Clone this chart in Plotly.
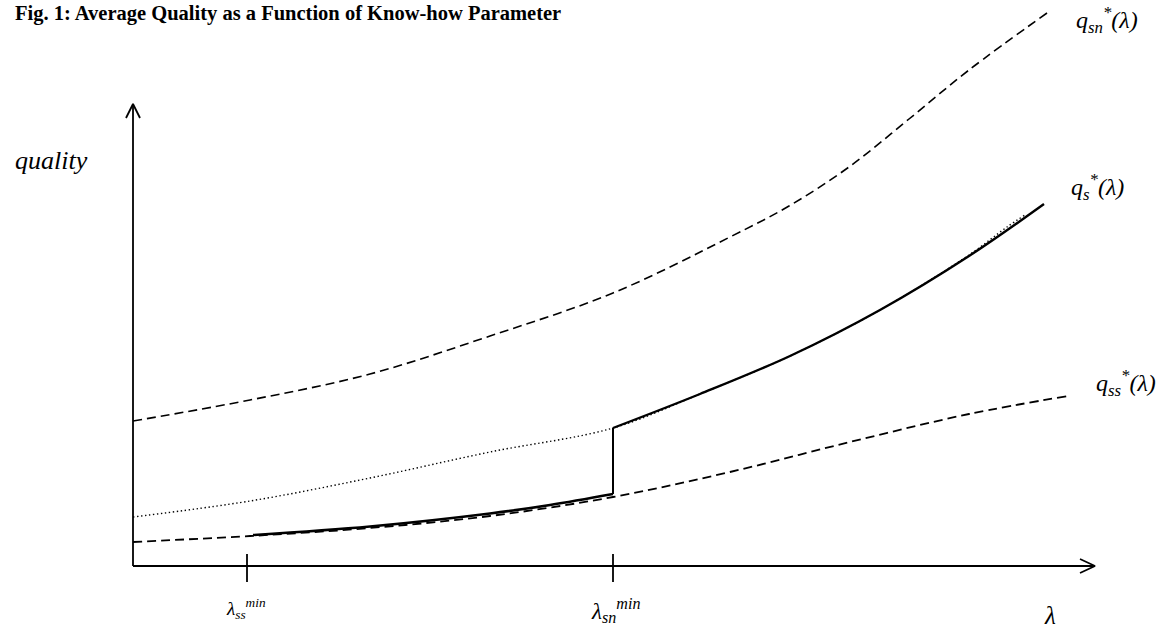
import plotly.graph_objects as go

# ---- data (lambda = horizontal know-how parameter, q = quality), schematic units ----
lam_sn = [0, 117, 237, 357, 480, 597, 656, 716, 776, 836, 914]
q_sn = [145, 166, 192, 230, 273, 329, 360, 399, 447, 496, 553]

lam_ss = [0, 117, 237, 357, 480, 597, 717, 836, 935]
q_ss = [24, 30, 38, 50, 69, 94, 124, 152, 170]

lam_dot = [0, 117, 237, 357, 480, 567, 657, 747, 836, 874, 892]
q_dot = [49, 65, 88, 114, 138, 172, 210, 256, 311, 339, 351]

lam_s_low = [120, 237, 357, 417, 480]
q_s_low = [31, 39.5, 52.5, 61, 72]

lam_s_high = [480, 567, 657, 747, 836, 911]
q_s_high = [138, 172, 210, 256, 310, 362]

lam_ss_min = 114
lam_sn_min = 480

x_axis_end = 962
y_axis_end = 462

FONT = "Liberation Serif"
BLACK = "#000000"

fig = go.Figure()

def line(x, y, width=1.6, dash="solid", shape="spline"):
    fig.add_trace(go.Scatter(x=x, y=y, mode="lines",
                             line=dict(color=BLACK, width=width, dash=dash, shape=shape,
                                       smoothing=1.0),
                             hoverinfo="skip", showlegend=False))

# curves
line(lam_sn, q_sn, width=1.6, dash="9px,5px")
line(lam_ss, q_ss, width=1.8, dash="9px,5px")
line(lam_dot, q_dot, width=1.4, dash="1.4px,2.6px")
line(lam_s_low, q_s_low, width=2.6)
line([lam_sn_min, lam_sn_min], [q_s_low[-1], q_s_high[0]], width=2, shape="linear")
line(lam_s_high, q_s_high, width=2.4)

# axes with open arrowheads
line([0, x_axis_end], [0, 0], width=1.8, shape="linear")
line([x_axis_end - 15, x_axis_end, x_axis_end - 15], [7, 0, -7], width=1.8, shape="linear")
line([0, 0], [0, y_axis_end], width=1.8, shape="linear")
line([-7, 0, 7], [y_axis_end - 14, y_axis_end, y_axis_end - 14], width=1.8, shape="linear")

# ticks
for t in [lam_ss_min, lam_sn_min]:
    line([t, t], [12, -16], width=1.8, shape="linear")

def label(x, y, text, size=22):
    fig.add_annotation(x=x, y=y, xref="x", yref="y", text=text, showarrow=False,
                       font=dict(family=FONT, size=size, color=BLACK),
                       xanchor="center", yanchor="middle")

label(-82, 406, "<i>quality</i>", 26)
label(917, -49, "<i>λ</i>", 25)
label(113, -42, "<i>λ<sub>ss</sub><sup>min</sup></i>", 19)
label(482, -44, "<i>λ<sub>sn</sub><sup>min</sup></i>", 23)
label(974, 546, "<i>q<sub>sn</sub><sup>*</sup>(λ)</i>", 24)
label(964, 379, "<i>q<sub>s</sub><sup>*</sup>(λ)</i>", 24)
label(993, 183, "<i>q<sub>ss</sub><sup>*</sup>(λ)</i>", 24)

fig.add_annotation(x=13 / 1167, y=1, xref="paper", yref="paper",
                   text="<b>Fig. 1: Average Quality as a Function of Know-how Parameter</b>",
                   showarrow=False, xanchor="left", yanchor="top",
                   font=dict(family=FONT, size=20.5, color=BLACK))

fig.update_layout(
    width=1167, height=636,
    margin=dict(l=0, r=0, t=0, b=0),
    paper_bgcolor="white", plot_bgcolor="white",
    xaxis=dict(range=[-133, 1034], visible=False, fixedrange=True),
    yaxis=dict(range=[-70, 566], visible=False, fixedrange=True),
    showlegend=False,
)

fig.write_html("out.html")
